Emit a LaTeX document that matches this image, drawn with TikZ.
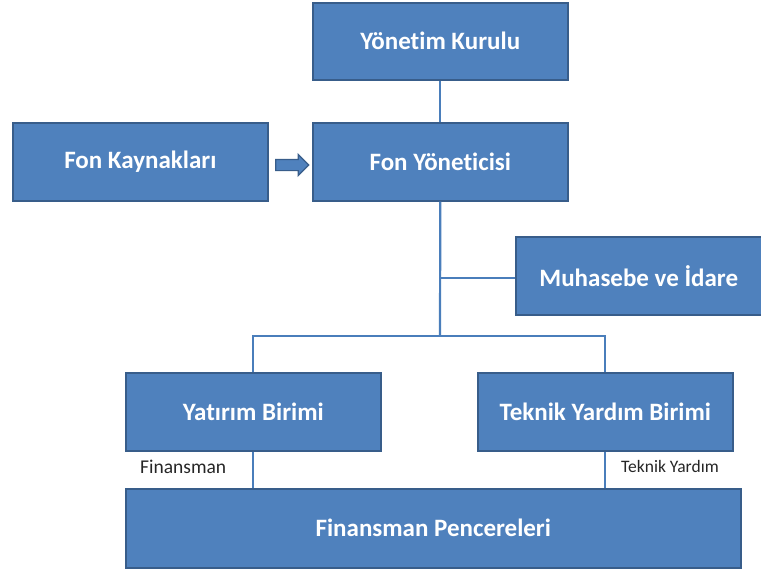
\documentclass[tikz,border=0pt]{standalone}
\usepackage{fontspec}
\setmainfont[Ligatures=NoCommon]{Carlito}
\usetikzlibrary{shapes.arrows}
\definecolor{boxfill}{HTML}{4F81BD}
\definecolor{boxline}{HTML}{385D8A}
\definecolor{linkblue}{HTML}{4A7EBB}
\tikzset{
  unit/.style={draw=boxline, line width=1.6pt, fill=boxfill, text=white,
    font=\bfseries\fontsize{25}{30}\selectfont, inner sep=0pt, anchor=north west},
  link/.style={draw=linkblue, line width=2.2pt},
  note/.style={font=\fontsize{19.5}{23}\selectfont, text=black!85, inner sep=0pt},
}
\begin{document}
\begin{tikzpicture}[x=1pt, y=-1pt]
\useasboundingbox (0,0) rectangle (761,571);
% boxes
\node[unit, minimum width=255pt, minimum height=77pt] (board) at (312,2) {Yönetim Kurulu};
\node[unit, minimum width=255pt, minimum height=78pt] (sources) at (12,122) {Fon Kaynakları};
\node[unit, minimum width=255pt, minimum height=78pt] (manager) at (312,122) {Fon Yöneticisi};
\node[unit, minimum width=246pt, minimum height=78pt] (admin) at (515,236) {Muhasebe ve İdare};
\node[unit, minimum width=255pt, minimum height=78pt] (invest) at (125,372) {Yatırım Birimi};
\node[unit, minimum width=255pt, minimum height=78pt] (tech) at (477,372) {Teknik Yardım Birimi};
\node[unit, minimum width=615pt, minimum height=79pt] (windows) at (125,488) {Finansman Pencereleri};
% connectors
\coordinate (branch) at (440,278);
\coordinate (split) at (440,336);
\draw[link] (board.south) -- (manager.north);
\draw[link] (manager.south) -- (split);
\draw[link] (branch) -- (admin.west |- branch);
\draw[link] (invest.north) |- (split) -| (tech.north);
\draw[link] (invest.south) -- (invest.south |- windows.north);
\draw[link] (tech.south) -- (tech.south |- windows.north);
% block arrow between sources and manager
\node[single arrow, draw=boxline, fill=boxfill, line width=1.2pt,
  minimum height=33pt, single arrow head extend=5pt, inner sep=5pt,
  single arrow tip angle=90] (arr) at (289.5,165) {};
% labels
\node[note, anchor=west] (lbl1) at (140,467) {Finansman};
\node[note, anchor=west, font=\fontsize{17.5}{21}\selectfont] (lbl2) at (621,466) {Teknik Yardım};
\end{tikzpicture}
\end{document}
